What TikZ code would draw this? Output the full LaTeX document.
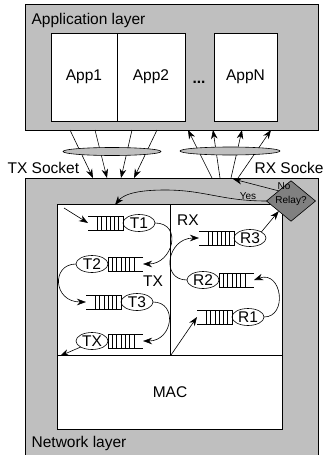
\documentclass[tikz,border=0pt]{standalone}
\usepackage{fontspec}
\setmainfont{Liberation Sans}
\usetikzlibrary{arrows.meta, positioning, shapes.geometric}

\tikzset{
  layer/.style={draw, fill=gray!50},
  appbox/.style={draw, fill=white, minimum width=66pt, minimum height=88pt, inner sep=0pt, outer sep=0pt},
  qell/.style={draw, ellipse, fill=white, minimum width=32pt, minimum height=17pt, inner sep=0pt, outer sep=0pt},
  queue/.style={minimum width=35pt, minimum height=14pt, inner sep=0pt, outer sep=0pt},
  socket/.style={draw, ellipse, fill=gray!50, minimum width=98pt, minimum height=8pt, inner sep=0pt},
  relaybox/.style={draw, diamond, fill=gray, minimum width=49pt, minimum height=30pt, inner sep=0pt, outer sep=0pt},
  small/.style={font=\fontsize{10}{12}\selectfont},
}

% queue open on the left, stripes next to the server
\newcommand{\qopenleft}[1]{%
  \draw (#1.north west) -- (#1.north east) -- (#1.south east) -- (#1.south west);
  \foreach \k in {1,...,6}
    \draw ([xshift=-\k*4.3pt]#1.north east) -- ([xshift=-\k*4.3pt]#1.south east);}
% queue open on the right
\newcommand{\qopenright}[1]{%
  \draw (#1.north east) -- (#1.north west) -- (#1.south west) -- (#1.south east);
  \foreach \k in {1,...,6}
    \draw ([xshift=\k*4.3pt]#1.north west) -- ([xshift=\k*4.3pt]#1.south west);}

\begin{document}
\begin{tikzpicture}[x=1pt, y=-1pt, >={Stealth[length=9pt,width=6.5pt]},
  line width=0.6pt, font=\fontsize{15.5}{18}\selectfont]
  \useasboundingbox (0,0) rectangle (325,455);
  % Layers
  \draw[layer] (25,4) rectangle (318,130);
  \draw[layer] (25,178) rectangle (318,470);
  \node[right] (applbl) at (28,20) {Application layer};
  \node[right] (netlbl) at (28,443) {Network layer};
  % Applications
  \node[appbox] (app1) at (84,77) {App1};
  \node[appbox, right=0pt of app1, minimum width=68pt] (app2) {App2};
  \node[appbox, minimum width=63pt] (appn) at (245.5,77) {AppN};
  \node[font=\fontsize{15.5}{18}\selectfont\bfseries] (dots) at (199,82) {...};
  % TX socket
  \foreach \a/\b [count=\i] in {70/93, 95/107, 132/121, 157/134} {
    \path (\a,130) coordinate (txa\i) (\b,178) coordinate (txb\i);
    \draw[->] (txa\i) -- (txb\i);
  }
  \node[socket] (txsock) at (112,151.5) {};
  \node[right] (txlbl) at (4,168) {TX Socket};
  % RX socket
  \foreach \a/\b [count=\i] in {212/188, 220/213, 231/242, 238/271} {
    \path (\a,178) coordinate (rxa\i) (\b,130) coordinate (rxb\i);
    \draw[->] (rxa\i) -- (rxb\i);
  }
  \node[socket, minimum width=100pt] (rxsock) at (230,151) {};
  \node[right] (rxlbl) at (251,168) {RX Socke};
  % Node internals
  \draw[fill=white] (57,204) rectangle (282,429);
  \draw (57,355) -- (282,355);
  \draw (170,204) -- (170,355);
  \node (mac) at (170,392) {MAC};
  \node (txarea) at (153,281) {TX};
  \node (rxarea) at (188,220) {RX};
  % TX queues
  \node[qell] (t1) at (139,223) {T1};
  \node[queue, left=0pt of t1] (t1q) {};
  \node[qell] (t2) at (92,264) {T2};
  \node[queue, right=0pt of t2] (t2q) {};
  \node[qell] (t3) at (137,302) {T3};
  \node[queue, left=0pt of t3] (t3q) {};
  \node[qell] (tx) at (92,341) {TX};
  \node[queue, right=0pt of tx] (txq) {};
  \qopenleft{t1q} \qopenright{t2q} \qopenleft{t3q} \qopenright{txq}
  % RX queues
  \node[qell] (r3) at (250,238) {R3};
  \node[queue, left=0pt of r3] (r3q) {};
  \node[qell] (r2) at (203,280) {R2};
  \node[queue, right=0pt of r2] (r2q) {};
  \node[qell] (r1) at (248,317) {R1};
  \node[queue, left=0pt of r1] (r1q) {};
  \qopenleft{r3q} \qopenright{r2q} \qopenleft{r1q}
  % Relay decision
  \node[relaybox, small] (relay) at (291,201) {Relay?};
  \node[small] (nolbl) at (284,186) {No};
  \node[small] (yeslbl) at (248,196) {Yes};
  % TX path
  \coordinate (txin) at (64,208);
  \coordinate (txout) at (60,356);
  \draw[->] (txin) -- (t1q.west);
  \draw[->] (t1.east) .. controls +(28,0) and +(30,0) .. (t2q.east);
  \draw[->] (t2.west) .. controls +(-25,0) and +(-33,0) .. (t3q.west);
  \draw[->] (t3.east) .. controls +(25,0) and +(30,0) .. (txq.east);
  \draw[->] (tx.south west) -- (txout);
  % RX path
  \coordinate (rxin) at (171,355);
  \draw[->] (rxin) -- (r1q.west);
  \draw[->] (r1.east) .. controls +(24,0) and +(28,-10) .. (r2q.east);
  \draw[->] (r2.west) .. controls +(-27,0) and +(-32,0) .. (r3q.west);
  \draw[->] (r3.north east) -- (relay.south west);
  % Relay branches
  \coordinate (rxjoin) at (233,179);
  \coordinate (yesbend) at (165,190);
  \coordinate (yestip) at (115,205);
  \draw[->] (relay.north west) -- (rxjoin);
  \draw[->] (relay.west) .. controls +(-45,0) and +(40,0) .. (yesbend)
    .. controls +(-30,0) and +(8,-10) .. (yestip);
\end{tikzpicture}
\end{document}
